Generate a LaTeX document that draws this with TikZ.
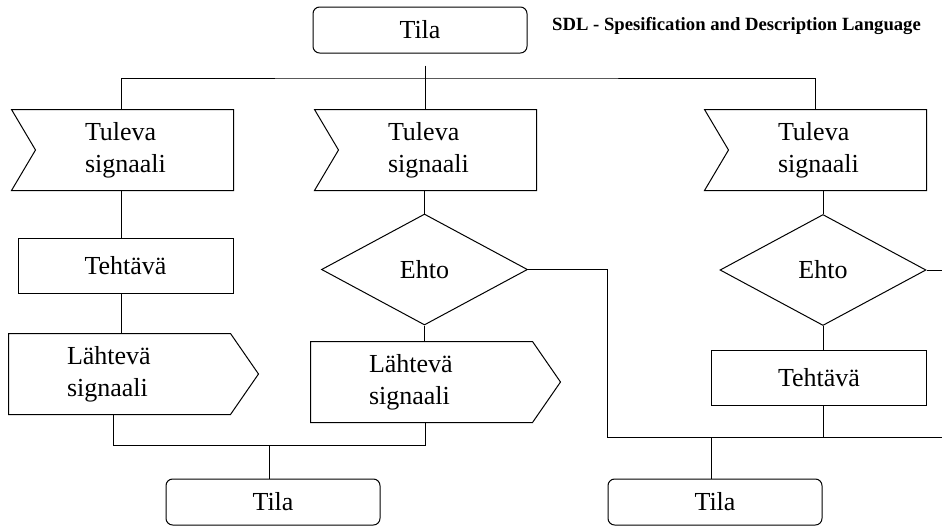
\documentclass[tikz,border=0pt]{standalone}
\usepackage{fontspec}
\setmainfont{Liberation Serif}
\usetikzlibrary{shapes.geometric}

\newcommand{\yks}{0.75pt}

\tikzset{
    kaavio/.style={font=\fontsize{19.5}{24}\selectfont, line width=0.75pt},
    tila/.style={draw, rounded corners=5pt, minimum width=214*\yks, minimum height=46*\yks},
    tulo/.style={minimum width=221*\yks, minimum height=80*\yks, inner xsep=73*\yks,
        text width=75*\yks, align=left},
    lahto/.style={minimum width=221*\yks, minimum height=80*\yks, inner xsep=58*\yks,
        text width=105*\yks, align=left},
    tehtava/.style={draw, minimum width=215*\yks, minimum height=55*\yks},
    ehto/.style={draw, diamond, minimum width=206*\yks, minimum height=111*\yks, inner sep=0pt},
}

\begin{document}
\begin{tikzpicture}[x=\yks, y=-\yks, kaavio]
    \useasboundingbox (0,0) rectangle (942,526);

    % otsikko
    \node[anchor=base, font=\fontsize{14}{16}\selectfont\bfseries] (otsikko) at (736.5,30)
        {SDL - Spesification and Description Language};

    % lahtotila
    \node[tila] (tila0) at (420,30) {Tila};

    % vasen haara
    \node[tulo] (tulo1) at (122.5,150) {Tuleva\\signaali};
    \node[tehtava] (teht1) at (125.5,265.5) {Tehtävä};
    \node[lahto] (lahto1) at (119.5,374) {Lähtevä\\signaali};

    % keskimmainen haara
    \node[tulo] (tulo2) at (425.5,150) {Tuleva\\signaali};
    \node[ehto] (ehto1) at (424.5,269.5) {Ehto};
    \node[lahto] (lahto2) at (421.5,382) {Lähtevä\\signaali};

    % oikea haara
    \node[tulo] (tulo3) at (815.5,150) {Tuleva\\signaali};
    \node[ehto] (ehto2) at (823,270) {Ehto};
    \node[tehtava] (teht2) at (819,378) {Tehtävä};

    % lopputilat
    \node[tila] (tila1) at (273,502) {Tila};
    \node[tila] (tila2) at (715,502) {Tila};

    % signaalien reunat
    \foreach \n in {tulo1,tulo2,tulo3}
        \draw (\n.north west) -- (\n.north east) -- (\n.south east) -- (\n.south west)
            -- ([xshift=24*\yks]\n.west) -- cycle;
    \foreach \n in {lahto1,lahto2}
        \draw (\n.north west) -- (\n.north east) -- ([xshift=28*\yks]\n.east)
            -- (\n.south east) -- (\n.south west) -- cycle;

    % apupisteet
    \coordinate (haara) at (425,78);
    \coordinate (yhd1) at (269,445);
    \coordinate (kulma) at (607,437);
    \coordinate (yhd2) at (711,437);
    \coordinate (reuna1) at (942,270);
    \coordinate (reuna2) at (942,437);

    % yhteydet ylhaalla
    \draw[shorten <=12*\yks] (tila0.south -| haara) -- (haara);
    \draw (tulo1.north -| 121,0) |- (haara) -| (tulo3.north);
    \draw (haara) -- (tulo2.north -| haara);

    % vasen
    \draw (tulo1.south -| 121,0) -- (teht1.north -| 121,0);
    \draw (teht1.south -| 121,0) -- (lahto1.north -| 121,0);
    \draw (lahto1.south -| 113,0) |- (yhd1) -| (lahto2.south -| haara);
    \draw (yhd1) -- (tila1.north -| yhd1);

    % keski
    \draw (tulo2.south -| ehto1.north) -- (ehto1.north);
    \draw (ehto1.south) -- (lahto2.north -| ehto1.south);
    \draw (ehto1.east) -| (kulma) -- (reuna2);

    % oikea
    \draw (tulo3.south -| ehto2.north) -- (ehto2.north);
    \draw (ehto2.east) -- (reuna1);
    \draw (ehto2.south) -- (teht2.north -| ehto2.south);
    \draw (teht2.south -| ehto2.south) -- (kulma -| ehto2.south);
    \draw (yhd2) -- (tila2.north -| yhd2);
\end{tikzpicture}
\end{document}
